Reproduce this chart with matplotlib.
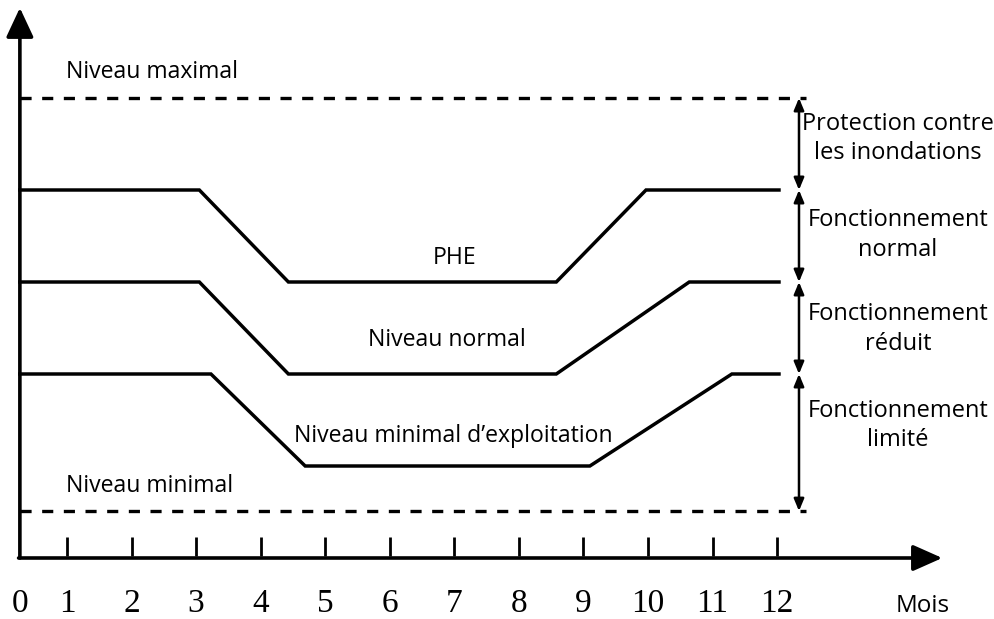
import matplotlib
matplotlib.use("Agg")
import matplotlib.pyplot as plt

plt.rcParams["lines.scale_dashes"] = False

# Months (x) and reservoir levels (y, arbitrary units)
months = list(range(1, 13))
month_labels = [str(m) for m in months]
origin_x = 0.27

phe_x = [origin_x, 3.05, 4.43, 8.58, 9.97, 12.03]
phe_y = [4.0, 4.0, 3.0, 3.0, 4.0, 4.0]

normal_x = [origin_x, 3.05, 4.43, 8.58, 10.64, 12.03]
normal_y = [3.0, 3.0, 2.0, 2.0, 3.0, 3.0]

min_exploit_x = [origin_x, 3.23, 4.69, 9.10, 11.30, 12.03]
min_exploit_y = [2.0, 2.0, 1.0, 1.0, 2.0, 2.0]

niveau_maximal = 5.0
niveau_minimal = 0.51
dash_end = 12.45

zones = [
    ("Protection contre\nles inondations", 5.0, 4.0, 4.56),
    ("Fonctionnement\nnormal", 4.0, 3.0, 3.51),
    ("Fonctionnement\nréduit", 3.0, 2.0, 2.49),
    ("Fonctionnement\nlimité", 2.0, niveau_minimal, 1.44),
]

SANS = ["Open Sans", "DejaVu Sans"]
SERIF = ["Liberation Serif", "DejaVu Serif"]
FS = 16.6

fig = plt.figure(figsize=(9.95, 6.19), dpi=100)
ax = fig.add_axes([0, 0, 1, 1])
ax.set_xlim(-2.45 / 64.55, (995 - 2.45) / 64.55)
ax.set_ylim((558 - 619) / 92, 558 / 92)
ax.axis("off")

# Axes with arrow heads
ax.annotate("", xy=(origin_x, 5.98), xytext=(origin_x, 0.0),
            arrowprops=dict(arrowstyle="-|>,head_length=0.9,head_width=0.42",
                            mutation_scale=20, lw=2.6, color="black",
                            shrinkA=0, shrinkB=0))
ax.annotate("", xy=(14.56, 0.0), xytext=(origin_x - 0.02, 0.0),
            arrowprops=dict(arrowstyle="-|>,head_length=0.9,head_width=0.4",
                            mutation_scale=20, lw=2.6, color="black",
                            shrinkA=0, shrinkB=0))

# Month ticks and labels
for m in months:
    ax.plot([m, m], [0.02, 0.23], color="black", lw=2.0, solid_capstyle="butt")
for m, lab in zip(months, month_labels):
    ax.text(m, -0.5, lab, ha="center", va="center", fontsize=24,
            family=SERIF)
ax.text(origin_x, -0.5, "0", ha="center", va="center", fontsize=24,
        family=SERIF)
ax.text(14.25, -0.52, "Mois", ha="center", va="center", fontsize=17.5,
        family=SANS)

# Reference levels (dashed)
for lvl in (niveau_maximal, niveau_minimal):
    ax.plot([origin_x, dash_end], [lvl, lvl], color="black", lw=2.4,
            linestyle=(0, (8.0, 7.6)), dash_capstyle="butt")

# Operating curves
for xs, ys in ((phe_x, phe_y), (normal_x, normal_y),
               (min_exploit_x, min_exploit_y)):
    ax.plot(xs, ys, color="black", lw=2.5, solid_joinstyle="miter")

# Curve labels
ax.text(0.98, 5.28, "Niveau maximal", ha="left", va="center", fontsize=FS,
        family=SANS)
ax.text(0.98, 0.78, "Niveau minimal", ha="left", va="center", fontsize=FS,
        family=SANS)
ax.text(7.01, 3.26, "PHE", ha="center", va="center", fontsize=FS, family=SANS)
ax.text(6.89, 2.37, "Niveau normal", ha="center", va="center", fontsize=FS,
        family=SANS)
ax.text(6.98, 1.33, "Niveau minimal d\u2019exploitation", ha="center",
        va="center", fontsize=FS, family=SANS)

# Operating zones on the right
arrow_x = 12.34
for label, top, bottom, ymid in zones:
    ax.annotate("", xy=(arrow_x, top), xytext=(arrow_x, bottom),
                arrowprops=dict(arrowstyle="<|-|>,head_length=0.6,head_width=0.25",
                                mutation_scale=12, lw=1.8, color="black",
                                shrinkA=0, shrinkB=0))
    ax.text(13.87, ymid, label, ha="center", va="center", fontsize=17,
            family=SANS, linespacing=1.32)

fig.savefig("out.png", dpi=100)
